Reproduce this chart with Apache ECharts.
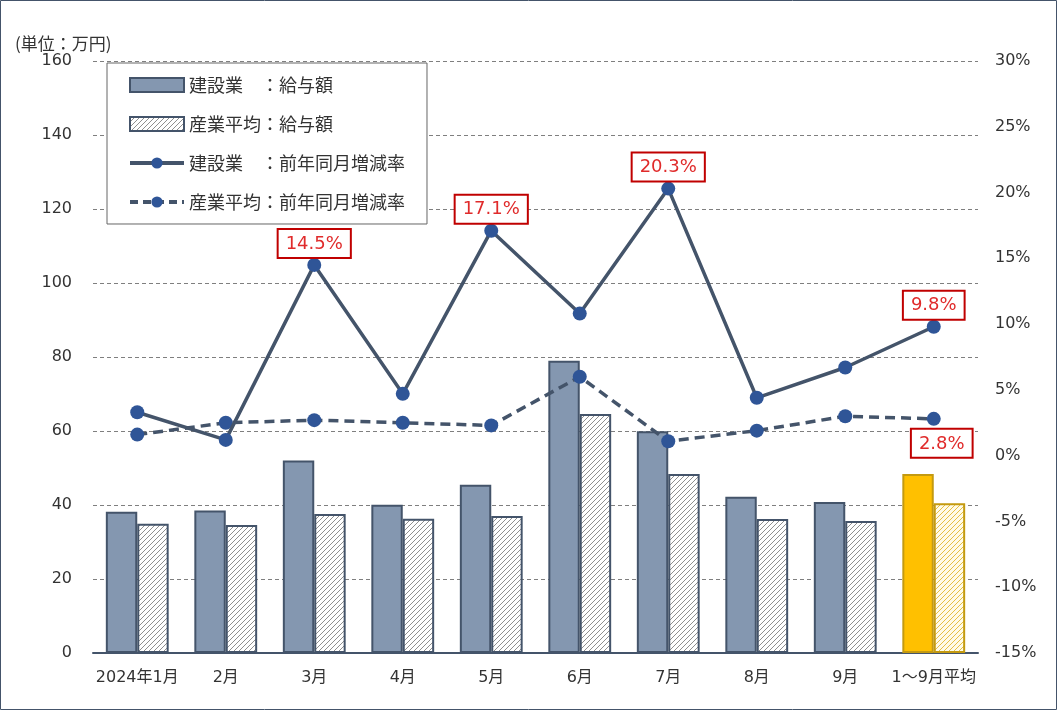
<!DOCTYPE html>
<html>
<head>
<meta charset="utf-8">
<script src="https://cdn.jsdelivr.net/npm/echarts@6/dist/echarts.min.js"></script>
<style>
  html, body { margin: 0; padding: 0; background: #fff; }
  #chart { width: 1057px; height: 710px; }
</style>
</head>
<body>
<div id="chart"></div>
<script>
// カテゴリ
const months = ['2024年1月', '2月', '3月', '4月', '5月', '6月', '7月', '8月', '9月', '1～9月平均']
// 給与額（万円）
const kensetsuPay = [38.2, 38.5, 52.0, 40.1, 45.5, 79.0, 59.9, 42.2, 40.8, 48.4]
const sangyoPay = [34.9, 34.6, 37.6, 36.3, 37.0, 64.6, 48.4, 36.2, 35.7, 40.5]
// 前年同月増減率（%）
const kensetsuRate = [3.3, 1.2, 14.5, 4.7, 17.1, 10.8, 20.3, 4.4, 6.7, 9.8]
const sangyoRate = [1.6, 2.5, 2.7, 2.5, 2.3, 6.0, 1.1, 1.9, 3.0, 2.8]
// ラベルを付ける点
const kensetsuLabelIdx = [2, 4, 6, 9]
const sangyoLabelIdx = [9]
const avgIdx = 9

const names = ['建設業　：給与額', '産業平均：給与額', '建設業　：前年同月増減率', '産業平均：前年同月増減率']

const numFont = 'DejaVu Sans, Noto Sans CJK JP'

// 斜線パターン
const hatch = (bg, fg) => {
  const s = 5
  const c = document.createElement('canvas')
  c.width = s
  c.height = s
  const g = c.getContext('2d')
  g.fillStyle = bg
  g.fillRect(0, 0, s, s)
  g.strokeStyle = fg
  g.lineWidth = 1
  g.beginPath()
  g.moveTo(0, s); g.lineTo(s, 0)
  g.moveTo(-1, 1); g.lineTo(1, -1)
  g.moveTo(s - 1, s + 1); g.lineTo(s + 1, s - 1)
  g.stroke()
  return { image: c, repeat: 'repeat' }
}

const grayHatch = hatch('#ffffff', '#8f8f8f')
const goldHatch = hatch('#fffbe8', '#e6bf45')

const labelBox = {
  color: '#e02b2b',
  fontSize: 18,
  fontFamily: numFont,
  backgroundColor: '#fff',
  borderColor: '#c00000',
  borderWidth: 2,
  padding: [5, 7, 4, 7],
  formatter: p => p.value.toFixed(1) + '%'
}

const chart = echarts.init(document.getElementById('chart'))

const option = {
  animation: false,
  textStyle: { fontFamily: 'Noto Sans CJK JP' },
  title: {
    text: '(単位：万円)',
    left: 10,
    top: 30,
    textStyle: { fontSize: 17, fontWeight: 'normal', color: '#333' }
  },
  graphic: [{
    type: 'rect',
    shape: { x: 0.5, y: 0.5, width: 1056, height: 709 },
    style: { fill: 'none', stroke: '#44546a', lineWidth: 1 },
    silent: true
  }],
  legend: {
    orient: 'vertical',
    left: 107,
    top: 63,
    padding: [13, 22, 13, 21],
    itemGap: 21,
    itemWidth: 54,
    itemHeight: 14,
    backgroundColor: '#fff',
    borderColor: '#666',
    borderWidth: 1,
    textStyle: { fontSize: 18, color: '#333' },
    data: [
      { name: names[0], icon: 'rect' },
      { name: names[1], icon: 'rect' },
      { name: names[2], lineStyle: { width: 4 } },
      { name: names[3], lineStyle: { width: 4, type: [8, 5] } }
    ]
  },
  grid: { left: 93, right: 79, top: 61, bottom: 57 },
  xAxis: {
    type: 'category',
    data: months,
    axisTick: { show: false },
    axisLine: { lineStyle: { color: '#44546a', width: 2 } },
    axisLabel: { fontSize: 16, color: '#333', margin: 17, interval: 0, fontFamily: numFont }
  },
  yAxis: [
    {
      type: 'value',
      min: 0,
      max: 160,
      interval: 20,
      axisLine: { show: false },
      axisTick: { show: false },
      axisLabel: { fontSize: 16, color: '#333', margin: 21, fontFamily: numFont },
      splitLine: { lineStyle: { type: [4, 3], color: '#7f7f7f', width: 1 } }
    },
    {
      type: 'value',
      min: -15,
      max: 30,
      interval: 5,
      axisLine: { show: false },
      axisTick: { show: false },
      axisLabel: { fontSize: 16, color: '#333', margin: 17, formatter: '{value}%', fontFamily: numFont },
      splitLine: { show: false }
    }
  ],
  series: [
    {
      name: names[0],
      type: 'bar',
      barGap: '0%',
      barCategoryGap: '29%',
      itemStyle: { color: '#8497b0', borderColor: '#44546a', borderWidth: 2 },
      data: kensetsuPay.map((v, i) => i === avgIdx
        ? { value: v, itemStyle: { color: '#ffc000', borderColor: '#c49a10' } }
        : v)
    },
    {
      name: names[1],
      type: 'bar',
      itemStyle: { color: grayHatch, borderColor: '#44546a', borderWidth: 2 },
      data: sangyoPay.map((v, i) => i === avgIdx
        ? { value: v, itemStyle: { color: goldHatch, borderColor: '#c49a10' } }
        : v)
    },
    {
      name: names[2],
      type: 'line',
      yAxisIndex: 1,
      symbol: 'circle',
      symbolSize: 14,
      z: 5,
      lineStyle: { color: '#44546a', width: 3.5 },
      itemStyle: { color: '#2f5597' },
      label: Object.assign({ show: false, position: 'top', distance: 1 }, labelBox),
      data: kensetsuRate.map((v, i) => kensetsuLabelIdx.includes(i)
        ? { value: v, label: { show: true } }
        : v)
    },
    {
      name: names[3],
      type: 'line',
      yAxisIndex: 1,
      symbol: 'circle',
      symbolSize: 14,
      z: 4,
      lineStyle: { color: '#44546a', width: 3.5, type: [10, 6] },
      itemStyle: { color: '#2f5597' },
      label: Object.assign({ show: false, position: 'bottom', distance: 4, offset: [8, 0] }, labelBox),
      data: sangyoRate.map((v, i) => sangyoLabelIdx.includes(i)
        ? { value: v, label: { show: true } }
        : v)
    }
  ]
}

chart.setOption(option)

window.addEventListener('resize', () => {
  chart.resize()
})
</script>
</body>
</html>
